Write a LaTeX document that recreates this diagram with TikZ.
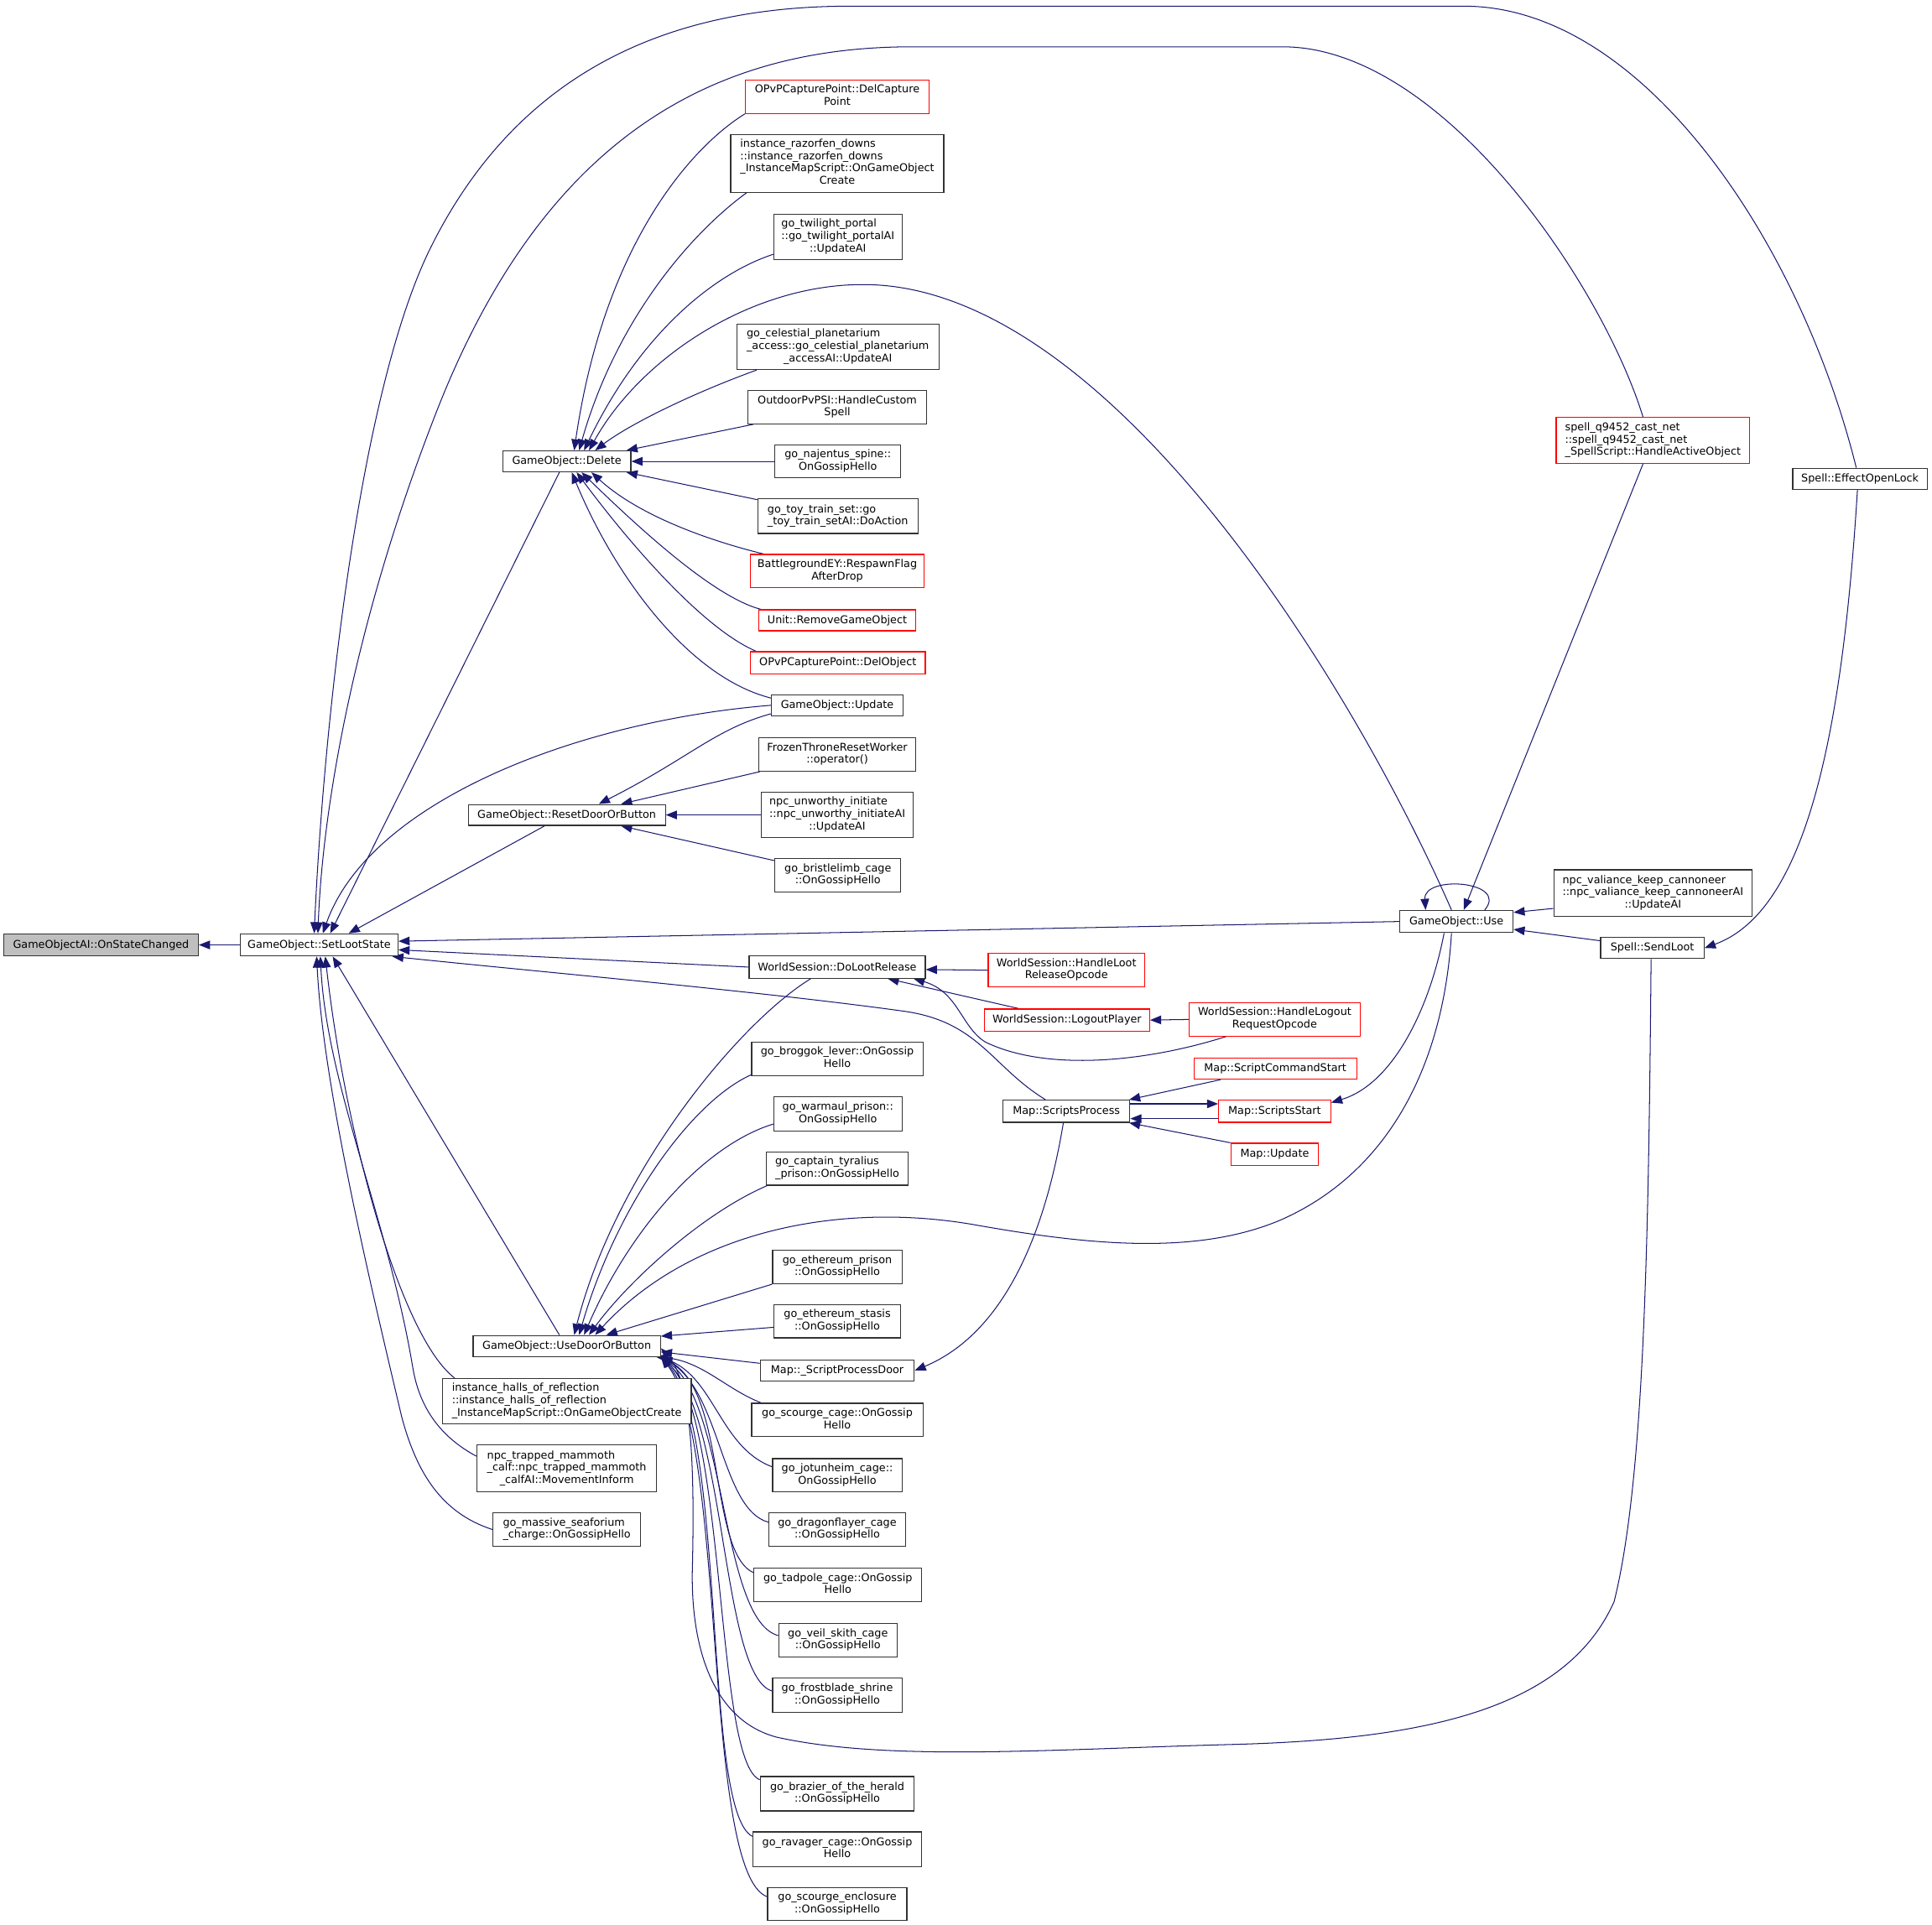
\documentclass[tikz,border=0pt]{standalone}
\usepackage{fontspec}
\setmainfont{DejaVu Sans}
\usetikzlibrary{arrows.meta}
\definecolor{navy}{HTML}{191970}
\newcommand{\nf}{\fontsize{8.7pt}{10pt}\selectfont}
\newcommand{\tb}[1]{\begin{tabular}{@{}c@{}}#1\end{tabular}}
\newcommand{\Ln}[1]{\multicolumn{1}{@{}l@{}}{#1}}
\newcommand{\bx}[6]{\node[#5,minimum width={(#2)-(#1)},minimum height={(#4)-(#3)}] (#6) at ({((#1)+(#2))/2},{((#3)+(#4))/2})}
\pgfdeclarelayer{bg}
\pgfsetlayers{bg,main}
\tikzset{
  box/.style={draw=black!80, line width=0.8pt, fill=white, inner sep=0pt, font=\nf},
  rbox/.style={box, draw=red},
  gbox/.style={box, fill=gray!50},
  e/.style={draw=navy, line width=0.7pt, -{Triangle[length=9pt,width=7pt]}}
}
\begin{document}
\begin{tikzpicture}[x=1pt,y=-1pt]
\useasboundingbox (0,0) rectangle (1568,1562);
\begin{pgfonlayer}{bg}
\fill[white] (0,0) rectangle (1568,1562);
\end{pgfonlayer}
% nodes
\bx{3}{161}{758}{776}{gbox}{a}{GameObjectAI::OnStateChanged};
\bx{195}{323}{758}{776}{box}{b}{GameObject::SetLootState};
\bx{408}{512}{366}{383}{box}{del}{GameObject::Delete};
\bx{380}{540}{653}{670}{box}{rst}{GameObject::ResetDoorOrButton};
\bx{384}{536}{1084}{1101}{box}{udb}{GameObject::UseDoorOrButton};
\bx{359}{561}{1119}{1156}{box}{halls}{\tb{\Ln{instance\_halls\_of\_reflection}\\\Ln{::instance\_halls\_of\_reflection}\\\_InstanceMapScript::OnGameObjectCreate}};
\bx{387}{533}{1173}{1211}{box}{mam}{\tb{\Ln{npc\_trapped\_mammoth}\\\_calf::npc\_trapped\_mammoth\\\_calfAI::MovementInform}};
\bx{400}{520}{1228}{1255}{box}{sea}{\tb{\Ln{go\_massive\_seaforium}\\\_charge::OnGossipHello}};
\bx{605}{754}{65}{92}{rbox}{dcp}{\tb{OPvPCapturePoint::DelCapture\\Point}};
\bx{593}{766}{109}{156}{box}{raz}{\tb{\Ln{instance\_razorfen\_downs}\\\Ln{::instance\_razorfen\_downs}\\\_InstanceMapScript::OnGameObject\\Create}};
\bx{628}{732}{174}{211}{box}{twi}{\tb{\Ln{go\_twilight\_portal}\\\Ln{::go\_twilight\_portalAI}\\::UpdateAI}};
\bx{598}{762}{263}{300}{box}{cel}{\tb{\Ln{go\_celestial\_planetarium}\\\_access::go\_celestial\_planetarium\\\_accessAI::UpdateAI}};
\bx{607}{752}{317}{344}{box}{opsi}{\tb{OutdoorPvPSI::HandleCustom\\Spell}};
\bx{629}{731}{361}{388}{box}{naj}{\tb{go\_najentus\_spine::\\OnGossipHello}};
\bx{615}{745}{405}{433}{box}{toy}{\tb{\Ln{go\_toy\_train\_set::go}\\\_toy\_train\_setAI::DoAction}};
\bx{609}{750}{450}{477}{rbox}{bey}{\tb{BattlegroundEY::RespawnFlag\\AfterDrop}};
\bx{616}{743}{495}{512}{rbox}{rgo}{Unit::RemoveGameObject};
\bx{609}{751}{529}{547}{rbox}{dob}{OPvPCapturePoint::DelObject};
\bx{626}{733}{564}{581}{box}{upd}{GameObject::Update};
\bx{616}{743}{599}{626}{box}{ftr}{\tb{FrozenThroneResetWorker\\::operator()}};
\bx{618}{741}{643}{680}{box}{unw}{\tb{\Ln{npc\_unworthy\_initiate}\\::npc\_unworthy\_initiateAI\\::UpdateAI}};
\bx{629}{731}{697}{724}{box}{bri}{\tb{go\_bristlelimb\_cage\\::OnGossipHello}};
\bx{608}{751}{776}{794}{box}{dlr}{WorldSession::DoLootRelease};
\bx{610}{749}{846}{873}{box}{brg}{\tb{go\_broggok\_lever::OnGossip\\Hello}};
\bx{628}{732}{890}{918}{box}{war}{\tb{go\_warmaul\_prison::\\OnGossipHello}};
\bx{622}{737}{935}{962}{box}{cap}{\tb{\Ln{go\_captain\_tyralius}\\\_prison::OnGossipHello}};
\bx{627}{732}{1015}{1042}{box}{eth}{\tb{go\_ethereum\_prison\\::OnGossipHello}};
\bx{628}{731}{1059}{1086}{box}{ets}{\tb{go\_ethereum\_stasis\\::OnGossipHello}};
\bx{617}{742}{1104}{1121}{box}{spd}{Map::\_ScriptProcessDoor};
\bx{610}{749}{1139}{1166}{box}{sco}{\tb{go\_scourge\_cage::OnGossip\\Hello}};
\bx{627}{732}{1184}{1211}{box}{jot}{\tb{go\_jotunheim\_cage::\\OnGossipHello}};
\bx{624}{735}{1228}{1255}{box}{dra}{\tb{go\_dragonflayer\_cage\\::OnGossipHello}};
\bx{612}{748}{1273}{1300}{box}{tad}{\tb{go\_tadpole\_cage::OnGossip\\Hello}};
\bx{632}{728}{1318}{1345}{box}{vei}{\tb{go\_veil\_skith\_cage\\::OnGossipHello}};
\bx{627}{732}{1362}{1390}{box}{fro}{\tb{go\_frostblade\_shrine\\::OnGossipHello}};
\bx{617}{742}{1442}{1470}{box}{bra}{\tb{go\_brazier\_of\_the\_herald\\::OnGossipHello}};
\bx{611}{748}{1487}{1515}{box}{rav}{\tb{go\_ravager\_cage::OnGossip\\Hello}};
\bx{623}{736}{1532}{1559}{box}{enc}{\tb{go\_scourge\_enclosure\\::OnGossipHello}};
\bx{814}{917}{893}{911}{box}{sp}{Map::ScriptsProcess};
\bx{802}{929}{774}{801}{rbox}{hlr}{\tb{WorldSession::HandleLoot\\ReleaseOpcode}};
\bx{799}{933}{819}{837}{rbox}{lop}{WorldSession::LogoutPlayer};
\bx{965}{1104}{814}{841}{rbox}{hlo}{\tb{WorldSession::HandleLogout\\RequestOpcode}};
\bx{969}{1101}{859}{876}{rbox}{scs}{Map::ScriptCommandStart};
\bx{989}{1080}{893}{911}{rbox}{sst}{Map::ScriptsStart};
\bx{999}{1070}{928}{946}{rbox}{mup}{Map::Update};
\bx{1136}{1228}{739}{757}{box}{use}{GameObject::Use};
\bx{1261}{1422}{706}{744}{box}{val}{\tb{\Ln{npc\_valiance\_keep\_cannoneer}\\::npc\_valiance\_keep\_cannoneerAI\\::UpdateAI}};
\bx{1299}{1383}{761}{778}{box}{snd}{Spell::SendLoot};
\bx{1263}{1420}{339}{376}{rbox}{q9}{\tb{\Ln{spell\_q9452\_cast\_net}\\\Ln{::spell\_q9452\_cast\_net}\\\_SpellScript::HandleActiveObject}};
\bx{1455}{1564}{380}{397}{box}{eol}{Spell::EffectOpenLock};
% edges
\begin{pgfonlayer}{bg}
\draw[e] (b.west) -- (a.east);
\draw[e] ([xshift=-6pt]del.south) -- ([xshift=9pt]b.north);
\draw[e] ([xshift=-18pt]rst.south) -- ([xshift=24pt]b.north);
\draw[e] (upd.west) .. controls (470,585) and (300,650) .. ([xshift=3pt]b.north);
\draw[e] ([xshift=-6pt]udb.north) -- ([xshift=11pt]b.south);
\draw[e] (use.west) -- ([yshift=3pt]b.east);
\draw[e] (dlr.west) -- ([yshift=-4pt]b.east);
\draw[e] ([xshift=-17pt]sp.north) .. controls (805,866) and (795,830) .. (735,821) .. controls (620,805) and (450,790) .. ([xshift=-5pt]b.south east);
\draw[e] ([xshift=-91pt]halls.north) .. controls (325,1085) and (280,920) .. ([xshift=5pt]b.south);
\draw[e] ([yshift=10pt]mam.west) .. controls (355,1165) and (340,1140) .. (335,1110) .. controls (315,990) and (265,880) .. ([xshift=1pt]b.south);
\draw[e] (sea.west) .. controls (358,1228) and (338,1195) .. (326,1150) .. controls (300,1040) and (262,880) .. ([xshift=-2pt]b.south);
\draw[e] ([xshift=-8pt]q9.north) .. controls (1300,230) and (1170,38) .. (1041,38) -- (740,38) .. controls (580,38) and (440,110) .. (352,340) .. controls (290,500) and (262,650) .. ([xshift=-1pt]b.north);
\draw[e] ([xshift=-3pt]eol.north) .. controls (1462,200) and (1335,5) .. (1188,5) -- (690,5) .. controls (540,5) and (420,60) .. (350,200) .. controls (290,320) and (262,600) .. ([xshift=-4pt]b.north);
% Delete
\draw[e] (dcp.south west) .. controls (560,120) and (490,200) .. ([xshift=6pt]del.north);
\draw[e] ([xshift=-73.5pt]raz.south) .. controls (560,190) and (500,260) .. ([xshift=10pt]del.north);
\draw[e] ([yshift=5pt]twi.south west) .. controls (580,222) and (520,270) .. ([xshift=14pt]del.north);
\draw[e] ([xshift=-4pt]use.north) .. controls (1100,560) and (900,230) .. (700,231) .. controls (610,231) and (520,290) .. ([xshift=18pt]del.north);
\draw[e] ([xshift=-66pt]cel.south) .. controls (560,320) and (510,345) .. ([xshift=23pt]del.north);
\draw[e] ([xshift=5pt]opsi.south west) -- ([xshift=-4pt]del.north east);
\draw[e] (naj.west) -- (del.east);
\draw[e] ([yshift=-1pt]toy.north west) -- ([xshift=-4pt]del.south east);
\draw[e] ([xshift=11pt]bey.north west) .. controls (580,440) and (520,420) .. ([xshift=20pt]del.south);
\draw[e] ([xshift=2pt]rgo.north west) .. controls (580,485) and (520,430) .. ([xshift=12pt]del.south);
\draw[e] ([xshift=5pt]dob.north west) .. controls (570,510) and (510,440) .. ([xshift=8pt]del.south);
\draw[e] ([yshift=-3pt]upd.north west) .. controls (560,550) and (500,470) .. ([xshift=4pt]del.south);
% Reset
\draw[e] ([yshift=2pt]upd.south west) .. controls (580,592) and (560,615) .. ([xshift=26pt]rst.north);
\draw[e] ([xshift=1pt]ftr.south west) -- ([xshift=44pt]rst.north);
\draw[e] (unw.west) -- (rst.east);
\draw[e] ([yshift=-2pt]bri.north west) -- ([xshift=44pt]rst.south);
% UseDoorOrButton
\draw[e] ([xshift=-21.5pt]dlr.south) .. controls (600,830) and (500,950) .. ([xshift=6pt]udb.north);
\draw[e] ([yshift=1pt]brg.south west) .. controls (560,895) and (500,980) .. ([xshift=10pt]udb.north);
\draw[e] ([yshift=6pt]war.south west) .. controls (570,930) and (510,1000) .. ([xshift=14pt]udb.north);
\draw[e] ([xshift=1pt]cap.south west) .. controls (570,985) and (510,1040) .. ([xshift=18pt]udb.north);
\draw[e] ([xshift=-4pt]use.south) .. controls (1172,860) and (1130,950) .. (1040,990) .. controls (970,1020) and (880,1010) .. (790,994) .. controls (680,975) and (560,1000) .. ([xshift=23pt]udb.north);
\draw[e] (eth.south west) -- ([xshift=32pt]udb.north);
\draw[e] ([yshift=9pt]ets.south west) -- ([yshift=-1pt]udb.north east);
\draw[e] ([yshift=-3pt]spd.north west) -- ([yshift=4pt]udb.south east);
\draw[e] ([xshift=8pt]sco.north west) .. controls (590,1128) and (570,1105) .. ([xshift=-4pt]udb.south east);
\draw[e] ([yshift=-7pt]jot.north west) .. controls (585,1175) and (580,1120) .. (udb.south east);
\draw[e] ([yshift=-8pt]dra.north west) .. controls (585,1225) and (585,1130) .. (udb.south east);
\draw[e] ([yshift=-4pt]tad.north west) .. controls (575,1260) and (590,1130) .. (udb.south east);
\draw[e] ([yshift=-10pt]vei.north west) .. controls (585,1315) and (590,1140) .. (udb.south east);
\draw[e] ([yshift=-11pt]fro.north west) .. controls (585,1360) and (590,1150) .. (udb.south east);
\draw[e] ([yshift=-3pt]bra.north west) .. controls (580,1430) and (590,1150) .. (udb.south east);
\draw[e] ([yshift=-4pt]rav.north west) .. controls (570,1470) and (590,1160) .. (udb.south east);
\draw[e] ([yshift=-8pt]enc.north west) .. controls (570,1520) and (590,1170) .. (udb.south east);
\draw[e] ([xshift=-1pt]snd.south) .. controls (1338,1000) and (1335,1200) .. (1310,1300) .. controls (1270,1390) and (1150,1412) .. (1000,1416) .. controls (850,1420) and (720,1430) .. (630,1410) .. controls (575,1395) and (560,1330) .. (562,1270) .. controls (564,1180) and (560,1120) .. ([yshift=7pt]udb.south east);
% ScriptsProcess
\draw[e] ([xshift=-2.5pt]sp.south) .. controls (850,990) and (820,1080) .. (spd.east);
\draw[e] ([xshift=22pt]scs.south west) -- ([xshift=-1pt]sp.north east);
\draw[e] ([yshift=6pt]sp.east) -- ([yshift=6pt]sst.west);
\draw[e] ([yshift=-6pt]sst.west) -- ([yshift=-6pt]sp.east);
\draw[e] (mup.north west) -- ([xshift=-1pt]sp.south east);
\draw[e] ([xshift=-10pt]use.south) .. controls (1160,820) and (1130,880) .. ([yshift=7pt]sst.east);
% DoLootRelease
\draw[e] (hlr.west) -- ([yshift=-2pt]dlr.east);
\draw[e] ([xshift=28pt]lop.north west) -- ([xshift=41pt]dlr.south);
\draw[e] ([xshift=-39.5pt]hlo.south) .. controls (930,862) and (850,870) .. (800,846) .. controls (780,834) and (778,805) .. ([xshift=62pt]dlr.south);
\draw[e] (hlo.west) -- (lop.east);
% Use
\draw[e] ([xshift=23pt]use.north) .. controls (1225,715) and (1155,710) .. ([xshift=-25pt]use.north);
\draw[e] ([yshift=7pt]val.south west) -- ([yshift=-2pt]use.north east);
\draw[e] ([yshift=-3pt]snd.north west) -- ([yshift=3pt]use.south east);
\draw[e] ([xshift=-8pt]q9.south) -- ([xshift=6pt]use.north);
\draw[e] ([xshift=-2pt]eol.south) .. controls (1495,600) and (1465,740) .. (snd.east);
\end{pgfonlayer}
\end{tikzpicture}
\end{document}
